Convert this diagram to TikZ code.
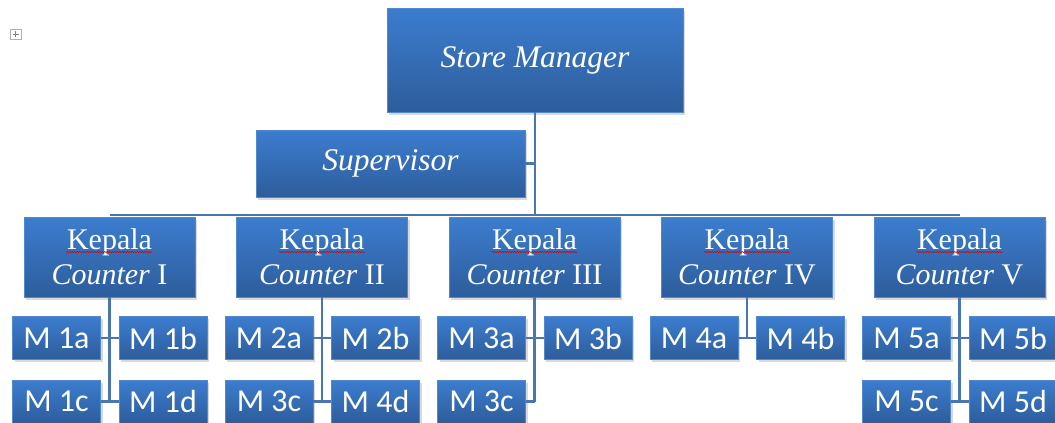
\documentclass[tikz,border=0pt]{standalone}
\usepackage{fontspec}
\setmainfont{Liberation Serif}
\newfontfamily\calibrifont{Carlito}
\usepackage{tikz}
\usetikzlibrary{positioning,shadows,calc,decorations.pathmorphing}
\definecolor{boxtop}{HTML}{3C7DCF}
\definecolor{boxbot}{HTML}{2D5D9B}
\definecolor{boxedge}{HTML}{5089CE}
\definecolor{linkblue}{HTML}{4A76B0}
\tikzset{
  org/box/.style={draw=boxedge, line width=0.5pt, top color=boxtop, bottom color=boxbot, text=white, inner sep=0pt,
    drop shadow={opacity=0.3, shadow xshift=2pt, shadow yshift=-2.5pt}},
  org/top/.style={org/box, minimum width=296pt, minimum height=104pt, font=\fontsize{31.5}{38}\selectfont\itshape},
  org/sup/.style={org/box, minimum width=269pt, minimum height=67pt, font=\fontsize{31.5}{38}\selectfont\itshape},
  org/head/.style={org/box, minimum width=171pt, minimum height=80pt, align=center, font=\fontsize{30}{35}\selectfont},
  org/member/.style={org/box, minimum width=88pt, minimum height=43pt, font=\calibrifont\fontsize{32}{36}\selectfont},
  org/line/.style={draw=linkblue, line width=2.5pt},
  org/squig/.style={draw=red!85!black, line width=0.5pt, decorate, decoration={snake, amplitude=0.7pt, segment length=2.5pt}}
}
\newcommand{\ctr}[1]{Kepala\\\textit{Counter} #1}

\begin{document}
\begin{tikzpicture}[x=1pt, y=-1pt]
  \useasboundingbox (0,0) rectangle (1055,423);

  % move handle in the corner
  \draw[gray!60, line width=0.4pt] (10,29) rectangle (21,39);
  \draw[gray, line width=0.6pt] (12.5,34) -- (18.5,34) (15.5,31) -- (15.5,37);

  % top of the tree
  \node[org/top] (sm) at (535,60) {Store Manager};
  \node[org/sup] (sup) at (390.5,163.5) {Supervisor};

  % heads of counter
  \node[org/head] (k1) at (109.5,257) {\ctr{I}};
  \node[org/head, right=41pt of k1] (k2) {\ctr{II}};
  \node[org/head, right=41pt of k2] (k3) {\ctr{III}};
  \node[org/head, right=41pt of k3] (k4) {\ctr{IV}};
  \node[org/head, right=41pt of k4] (k5) {\ctr{V}};
  \foreach \k in {k1,k2,k3,k4,k5}
    \draw[org/squig] ([xshift=-43pt,yshift=5pt]\k.center) -- ([xshift=43pt,yshift=5pt]\k.center);

  % members
  \node[org/member, below=19pt of k1, xshift=-53pt] (m1a) {M 1a};
  \node[org/member, right=18pt of m1a] (m1b) {M 1b};
  \node[org/member, below=20pt of m1a] (m1c) {M 1c};
  \node[org/member, right=18pt of m1c] (m1d) {M 1d};

  \node[org/member, below=19pt of k2, xshift=-53pt] (m2a) {M 2a};
  \node[org/member, right=18pt of m2a] (m2b) {M 2b};
  \node[org/member, below=20pt of m2a] (m2c) {M 3c};
  \node[org/member, right=18pt of m2c] (m2d) {M 4d};

  \node[org/member, below=19pt of k3, xshift=-53pt] (m3a) {M 3a};
  \node[org/member, right=18pt of m3a] (m3b) {M 3b};
  \node[org/member, below=20pt of m3a] (m3c) {M 3c};

  \node[org/member, below=19pt of k4, xshift=-53pt] (m4a) {M 4a};
  \node[org/member, right=18pt of m4a] (m4b) {M 4b};

  \node[org/member, below=19pt of k5, xshift=-53pt] (m5a) {M 5a};
  \node[org/member, right=18pt of m5a] (m5b) {M 5b};
  \node[org/member, below=20pt of m5a] (m5c) {M 5c};
  \node[org/member, right=18pt of m5c] (m5d) {M 5d};

  % links
  \path ([yshift=2pt]k1.north) coordinate (busL) ([yshift=2pt]k5.north) coordinate (busR);
  \draw[org/line] (busL) -- (busR);
  \draw[org/line] (sm.south) -- (sm.south |- busL);
  \draw[org/line] (sup.east) -- (sup.east -| sm.south);

  \draw[org/line] (k1.south) -- (k1.south |- m1c.east);
  \draw[org/line] (m1a.east) -- (m1b.west);
  \draw[org/line] (m1c.east) -- (m1d.west);
  \draw[org/line] (k2.south) -- (k2.south |- m2c.east);
  \draw[org/line] (m2a.east) -- (m2b.west);
  \draw[org/line] (m2c.east) -- (m2d.west);
  \draw[org/line] (k3.south) -- (k3.south |- m3c.east);
  \draw[org/line] (m3a.east) -- (m3b.west);
  \draw[org/line] (m3c.east) -- (m3c.east -| k3.south);
  \draw[org/line] (k4.south) -- (k4.south |- m4a.east);
  \draw[org/line] (m4a.east) -- (m4b.west);
  \draw[org/line] (k5.south) -- (k5.south |- m5c.east);
  \draw[org/line] (m5a.east) -- (m5b.west);
  \draw[org/line] (m5c.east) -- (m5d.west);
\end{tikzpicture}
\end{document}
